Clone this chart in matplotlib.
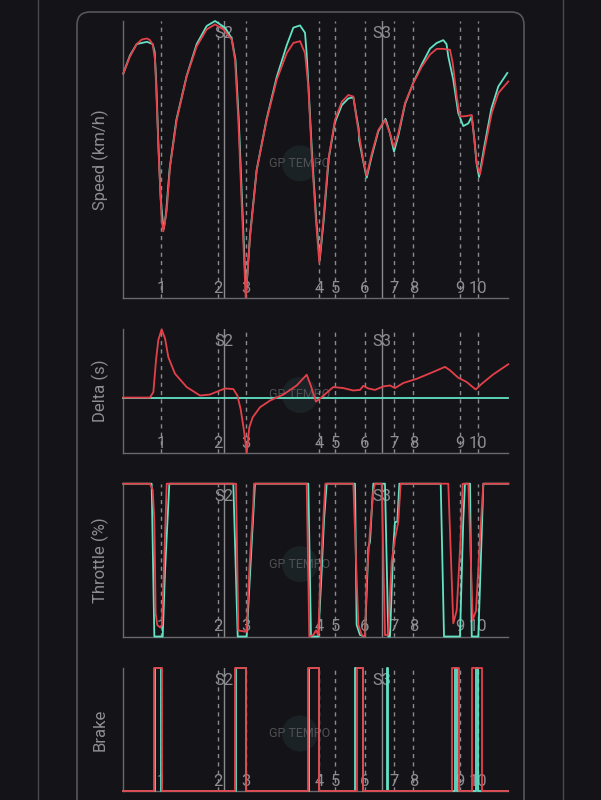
import matplotlib
matplotlib.use("Agg")
import matplotlib.pyplot as plt
from matplotlib.patches import FancyBboxPatch, Ellipse
from matplotlib.transforms import IdentityTransform
from matplotlib.lines import Line2D

# ---------------- data ----------------
track_length = 4318
corner_labels = ["1", "2", "3", "4", "5", "6", "7", "8", "9", "10"]
corner_dist = [423, 1066, 1373, 2195, 2374, 2711, 3040, 3253, 3776, 3982]
sector_labels = ["S2", "S3"]
sector_dist = [1133, 2905]

speed_red_dist = [0, 75, 150, 206, 266, 299, 330, 356, 375, 404, 431, 449, 487, 524, 599,
                  711, 823, 935, 1029, 1122, 1216, 1253, 1290, 1328, 1373, 1421, 1496,
                  1608, 1721, 1833, 1907, 1982, 2038, 2075, 2113, 2161, 2198, 2243, 2299,
                  2374, 2450, 2524, 2580, 2618, 2655, 2692, 2730, 2786, 2860, 2935, 2991,
                  3036, 3084, 3160, 3253, 3347, 3440, 3515, 3589, 3664, 3695, 3739, 3776,
                  3852, 3908, 3933, 3964, 4001, 4057, 4132, 4206, 4318]
speed_red = [271, 286, 297, 301, 302, 300.5, 296.6, 283, 245, 185.5, 141, 131.6, 150, 188.5, 230,
             268.5, 295, 310, 314.4, 310, 301, 283, 230, 156, 73, 126, 185.5,
             230, 265.5, 289, 298, 299.6, 289, 259.6, 200, 141, 104, 141, 194.4,
             230, 246, 252, 250.7, 230, 212, 194, 181, 200, 221, 230, 218,
             206, 218, 245, 262.6, 277, 287.8, 292.8, 292.8, 292, 280, 250.7, 233,
             233.5, 234.4, 215, 191.5, 182, 206, 236, 253.7, 264]

speed_teal_dist = [0, 75, 150, 206, 266, 330, 352, 370, 395, 420, 445, 455, 480, 520, 595,
                   711, 823, 935, 1029, 1141, 1216, 1258, 1295, 1333, 1376, 1421, 1496,
                   1608, 1721, 1833, 1907, 1982, 2038, 2055, 2080, 2118, 2166, 2203, 2248,
                   2304, 2374, 2450, 2524, 2580, 2618, 2640, 2645, 2692, 2730, 2786, 2860,
                   2941, 2991, 3036, 3084, 3160, 3253, 3347, 3440, 3515, 3589, 3625, 3645,
                   3701, 3757, 3813, 3870, 3908, 3935, 3962, 3990, 4050, 4128, 4206, 4307]
speed_teal = [271, 287, 297, 298, 299, 297, 290, 262, 205, 160, 138, 134, 148, 187, 230,
              269, 297, 313, 317.4, 311.5, 302, 283, 230, 156, 75, 128, 186,
              231, 268, 296, 311.5, 313.5, 307, 290, 255, 198, 140, 106, 142,
              196, 228, 243, 249, 250, 232, 222, 212, 193, 179, 198, 220,
              231, 218, 202, 216, 244, 263, 279, 293, 298, 300.5, 297, 286,
              265.5, 236, 224.6, 227, 233, 215, 192, 179.6, 207, 240, 259.6, 271.5]

delta_red_dist = [0, 299, 337, 367, 393, 430, 468, 505, 580, 711, 860, 972, 1066, 1141, 1234,
                  1279, 1316, 1354, 1384, 1413, 1451, 1533, 1645, 1795, 1945, 2057, 2102,
                  2161, 2225, 2318, 2355, 2468, 2580, 2655, 2692, 2748, 2823, 2916, 2991,
                  3047, 3140, 3291, 3477, 3608, 3664, 3757, 3851, 3952, 4020, 4150, 4318]
delta_red = [0, 0, 0.027, 0.185, 0.285, 0.338, 0.293, 0.20, 0.118, 0.052, 0.01, 0.015, 0.032,
             0.045, 0.042, 0.01, -0.057, -0.165, -0.273, -0.148, -0.098, -0.048, -0.015,
             0.015, 0.06, 0.113, 0.06, -0.02, 0.002, 0.038, 0.052, 0.047, 0.035, 0.038,
             0.058, 0.045, 0.038, 0.055, 0.06, 0.047, 0.072, 0.093, 0.127, 0.152, 0.135,
             0.098, 0.077, 0.04, 0.068, 0.115, 0.165]
delta_teal_dist = [0, 4318]
delta_teal = [0, 0]

throttle_red_dist = [0, 299, 330, 348, 363, 381, 412, 434, 460, 487, 1264, 1290, 1384, 1413,
                     1458, 1466, 2057, 2086, 2131, 2161, 2187, 2206, 2243, 2266, 2580, 2636,
                     2674, 2711, 2730, 2767, 2804, 2823, 2898, 2935, 2969, 3010, 3047, 3084,
                     3111, 3645, 3701, 3739, 3784, 3807, 3870, 3919, 3956, 4001, 4038, 4318]
throttle_red = [100, 100, 96, 76, 15, 7.5, 6, 7.5, 52, 100, 100, 4, 3, 43.5,
                87, 100, 100, 0, 1, 4, 1, 32.6, 76, 100, 100, 7.6,
                1, 0, 38, 69, 95, 100, 100, 1, 1, 49, 64, 75,
                100, 100, 8.6, 17, 65, 100, 100, 10.8, 17, 65, 100, 100]
throttle_teal_dist = [0, 318, 348, 442, 468, 516, 1234, 1283, 1384, 1440, 1477, 2075, 2105,
                      2187, 2225, 2251, 2281, 2599, 2617, 2655, 2711, 2748, 2767, 2786, 2804,
                      2935, 2972, 2991, 3028, 3047, 3073, 3096, 3560, 3597, 3776, 3813, 3832,
                      3889, 3908, 3982, 4038, 4318]
throttle_teal = [100, 100, 0, 0, 43, 100, 100, 0, 0, 61, 100, 100, 0,
                 0, 43, 76, 100, 100, 7.6, 1, 0, 58, 62, 82, 100,
                 100, 0, 0, 58, 75, 75, 100, 100, 0, 0, 76, 100,
                 100, 0, 0, 100, 100]

brake_red_on = [344, 1253, 2075, 2618, 3690, 3908]
brake_red_off = [434, 1376, 2195, 2685, 3769, 4020]
brake_teal_on = [356, 1264, 2083, 2599, 2963, 3720, 3952]
brake_teal_off = [422, 1371, 2192, 2692, 2974, 3746, 3975]

# ---------------- style ----------------
BG = "#141418"
RED = "#e5404a"
TEAL = "#62e3c6"
GRID = "#8a8a8e"
TXT = "#8e8e92"
SPINE = "#6a6a6e"
FONT = ["Roboto", "DejaVu Sans"]
plt.rcParams["font.family"] = FONT

W, H = 601, 800
fig = plt.figure(figsize=(W / 100, H / 100), dpi=100, facecolor=BG)

# background decorations (pixel coordinates)
for xp in (38, 563):
    fig.add_artist(Line2D([xp / W, xp / W], [0, 1], color="#48484e", lw=1.0,
                          transform=fig.transFigure, zorder=-3))
panel = FancyBboxPatch((77, -30), 447, 800 - 12 + 30,
                       boxstyle="round,pad=0,rounding_size=13",
                       transform=IdentityTransform(), facecolor=BG,
                       edgecolor="#55555b", lw=1.2, zorder=-2)
fig.add_artist(panel)

left_px, right_px = 123.3, 508.3
panels = [
    ("Speed (km/h)", 21.0, 297.7),
    ("Delta (s)", 329.3, 452.7),
    ("Throttle (%)", 483.7, 636.5),
    ("Brake", 668.3, 790.7),
]

axes = []
for label, top, bot in panels:
    ax = fig.add_axes([left_px / W, 1 - bot / H, (right_px - left_px) / W, (bot - top) / H])
    ax.set_facecolor("none")
    for s in ("top", "right"):
        ax.spines[s].set_visible(False)
    for s in ("left", "bottom"):
        ax.spines[s].set_color(SPINE)
        ax.spines[s].set_linewidth(1.0)
    ax.set_xticks([])
    ax.set_yticks([])
    ax.set_xlim(0, track_length)
    # label
    yc = 1 - (top + bot) / 2 / H
    fig.text(100 / W, yc, label, rotation=90, ha="center", va="center",
             color=TXT, fontsize=12)
    # watermark
    cy = H - ((top + bot) / 2 + 4)
    fig.add_artist(Ellipse((300, cy), 36, 36, transform=IdentityTransform(),
                           facecolor="#1b2226", edgecolor="none", zorder=-1))
    fig.text(300 / W, cy / H, "GP TEMPO", ha="center", va="center",
             color="#4e5054", fontsize=9, zorder=-1)
    # corner + sector lines
    for d, lab in zip(corner_dist, corner_labels):
        ax.axvline(d, color=GRID, lw=1.0, ls=(0, (3, 3)), zorder=1)
        ax.annotate(lab, xy=(d, 0), xycoords=ax.get_xaxis_transform(),
                    xytext=(0, 1.5), textcoords="offset points",
                    ha="center", va="bottom", color=TXT, fontsize=12, zorder=2)
    for d, lab in zip(sector_dist, sector_labels):
        ax.axvline(d, color=GRID, lw=1.0, zorder=1)
        ax.annotate(lab, xy=(d, 1), xycoords=ax.get_xaxis_transform(),
                    xytext=(0, -3.5), textcoords="offset points",
                    ha="center", va="top", color=TXT, fontsize=12, zorder=2)
    axes.append(ax)

ax_s, ax_d, ax_t, ax_b = axes
lw = 1.3

ax_s.plot(speed_teal_dist, speed_teal, color=TEAL, lw=lw, zorder=3, clip_on=False)
ax_s.plot(speed_red_dist, speed_red, color=RED, lw=lw, zorder=4, clip_on=False)
ax_s.set_ylim(min(speed_red + speed_teal), max(speed_red + speed_teal))

ax_d.plot(delta_teal_dist, delta_teal, color=TEAL, lw=lw, zorder=3, clip_on=False)
ax_d.plot(delta_red_dist, delta_red, color=RED, lw=lw, zorder=4, clip_on=False)
ax_d.set_ylim(min(delta_red + delta_teal), max(delta_red + delta_teal))

ax_t.plot(throttle_teal_dist, throttle_teal, color=TEAL, lw=lw, zorder=3, clip_on=False)
ax_t.plot(throttle_red_dist, throttle_red, color=RED, lw=lw, zorder=4, clip_on=False)
ax_t.set_ylim(0, 100)


def brake_steps(on, off):
    xs, ys = [0], [0]
    for a, b in zip(on, off):
        xs += [a, a, b, b]
        ys += [0, 1, 1, 0]
    xs.append(track_length)
    ys.append(0)
    return xs, ys


bx, by = brake_steps(brake_teal_on, brake_teal_off)
ax_b.plot(bx, by, color=TEAL, lw=lw, zorder=3, clip_on=False)
bx, by = brake_steps(brake_red_on, brake_red_off)
ax_b.plot(bx, by, color=RED, lw=lw, zorder=4, clip_on=False)
ax_b.set_ylim(0, 1)

fig.savefig("out.png", dpi=100, facecolor=BG)
